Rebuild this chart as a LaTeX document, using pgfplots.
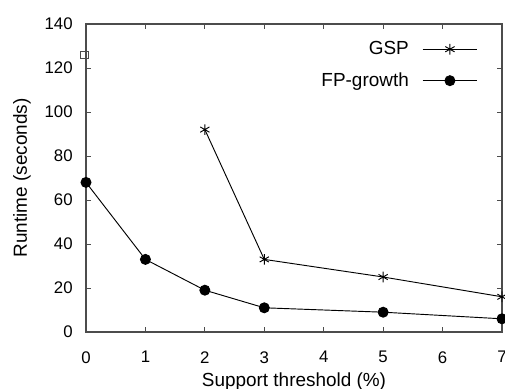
\documentclass[border=0pt]{standalone}
\usepackage{fontspec}
\setmainfont{Liberation Sans}
\usepackage{pgfplots}
\pgfplotsset{compat=1.18}
\begin{document}
\begin{tikzpicture}
\begin{axis}[
  scale only axis,
  width=312pt, height=231pt,
  xmin=0, xmax=7, ymin=0, ymax=140,
  xtick={0,1,2,3,4,5,6,7},
  ytick={0,20,40,60,80,100,120,140},
  tick align=inside,
  tick style={black!70, line width=0.6pt},
  major tick length=4pt,
  axis line style={black!70, line width=1pt},
  /pgf/number format/assume math mode=true,
  tick label style={font=\fontsize{12.6}{14}\selectfont},
  yticklabel style={xshift=-6.5pt},
  xticklabel style={yshift=-11pt},
  label style={font=\fontsize{14.2}{16}\selectfont},
  xlabel={Support threshold (\%)},
  ylabel={Runtime (seconds)},
  xlabel style={at={(axis description cs:0.5,0)}, anchor=base, yshift=-40.5pt},
  ylabel style={at={(axis description cs:0,0.5)}, anchor=center, yshift=48pt},
  clip=false,
  legend style={draw=none, fill=none, inner sep=0pt, nodes={inner sep=0pt},
    at={(rel axis cs:1,1)}, anchor=north east,
    xshift=-18pt, yshift=-13pt,
    font=\fontsize{14.2}{16}\selectfont, row sep=12pt},
  legend cell align=right,
  legend plot pos=right,
  legend image code/.code={
    \path (-10pt,0pt);
    \draw[#1,mark repeat=2,mark phase=2] plot coordinates {(0pt,0pt) (20.5pt,0pt) (41pt,0pt)};
  },
]
\addplot[black, line width=0.7pt, mark=asterisk, mark size=4pt, mark options={line width=0.7pt}]
  coordinates {(2,92) (3,33) (5,25) (7,16)};
\addlegendentry{GSP}
\addplot[black, line width=0.7pt, mark=*, mark size=3.75pt]
  coordinates {(0,68) (1,33) (2,19) (3,11) (5,9) (7,6)};
\addlegendentry{FP-growth}
\addplot[black!70, only marks, mark=square, mark size=2.8pt, mark options={line width=0.6pt}, forget plot]
  coordinates {(-0.03,126)};
\coordinate (ll) at (rel axis cs:0,0);
\coordinate (ur) at (rel axis cs:1,1);
\end{axis}
\pgfresetboundingbox
\useasboundingbox ([xshift=-64.5pt,yshift=-42pt]ll) rectangle ([xshift=2.25pt,yshift=18pt]ur);
\end{tikzpicture}
\end{document}
